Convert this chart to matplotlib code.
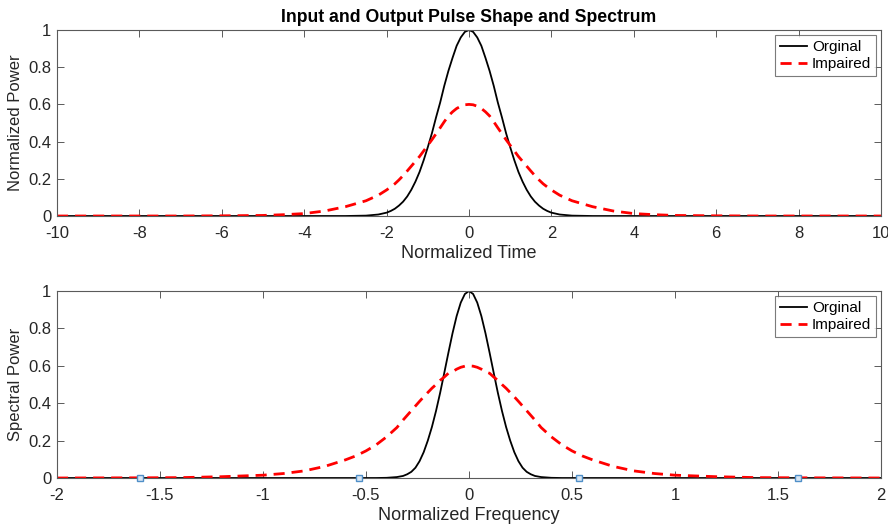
import matplotlib
matplotlib.use("Agg")
import matplotlib.pyplot as plt
import numpy as np

plt.rcParams['font.family'] = ['Liberation Sans', 'DejaVu Sans']
plt.rcParams['axes.unicode_minus'] = False

# ---- Top panel: pulse shapes vs normalized time ----
t_half = [0.0, 0.1, 0.2, 0.3, 0.4, 0.5, 0.6, 0.7, 0.8, 0.9, 1.0, 1.1, 1.2, 1.3, 1.4,
          1.5, 1.6, 1.7, 1.8, 1.9, 2.0, 2.2, 2.5, 3.0, 3.5, 4.0, 4.5, 5.0, 6.0, 7.0, 10.0]
orig_time_half = [1.0, 0.99, 0.96, 0.915, 0.85, 0.78, 0.70, 0.61, 0.53, 0.445, 0.37, 0.30,
                  0.237, 0.185, 0.141, 0.105, 0.077, 0.056, 0.039, 0.027, 0.018, 0.008,
                  0.002, 0.0, 0.0, 0.0, 0.0, 0.0, 0.0, 0.0, 0.0]
imp_time_half = [0.60, 0.598, 0.59, 0.578, 0.56, 0.538, 0.507, 0.474, 0.442, 0.41, 0.38,
                 0.35, 0.32, 0.294, 0.268, 0.242, 0.217, 0.194, 0.173, 0.156, 0.14, 0.112,
                 0.082, 0.05, 0.027, 0.013, 0.007, 0.003, 0.001, 0.0, 0.0]

# ---- Bottom panel: spectra vs normalized frequency ----
f_half = [0.0, 0.02, 0.04, 0.06, 0.08, 0.10, 0.12, 0.14, 0.16, 0.18, 0.20, 0.22, 0.24,
          0.26, 0.28, 0.30, 0.32, 0.35, 0.40, 0.45, 0.50, 0.55, 0.60, 0.70, 0.80, 0.90,
          1.0, 1.2, 1.4, 1.6, 2.0]
orig_freq_half = [1.0, 0.984, 0.938, 0.866, 0.774, 0.67, 0.562, 0.456, 0.359, 0.273, 0.20,
                  0.138, 0.09, 0.055, 0.033, 0.02, 0.011, 0.005, 0.001, 0.0, 0.0, 0.0, 0.0,
                  0.0, 0.0, 0.0, 0.0, 0.0, 0.0, 0.0, 0.0]
imp_freq_half = [0.60, 0.598, 0.592, 0.582, 0.568, 0.56, 0.54, 0.522, 0.50, 0.48, 0.457,
                 0.434, 0.41, 0.385, 0.36, 0.335, 0.31, 0.27, 0.22, 0.178, 0.145, 0.118,
                 0.097, 0.062, 0.038, 0.024, 0.015, 0.007, 0.002, 0.001, 0.0]

marker_f = [-1.595, -0.532, 0.532, 1.595]
marker_p = [0.0, 0.0, 0.0, 0.0]

legend_labels = ['Orginal', 'Impaired']
title = 'Input and Output Pulse Shape and Spectrum'


def mirror(x_half, y_half):
    x = [-v for v in x_half[::-1]] + x_half[1:]
    y = y_half[::-1] + y_half[1:]
    return np.array(x), np.array(y)


t, orig_t = mirror(t_half, orig_time_half)
_, imp_t = mirror(t_half, imp_time_half)
f, orig_f = mirror(f_half, orig_freq_half)
_, imp_f = mirror(f_half, imp_freq_half)

W, H = 888, 527
fig = plt.figure(figsize=(W / 100, H / 100), dpi=100)

ax1 = fig.add_axes([57 / W, 1 - 216 / H, (881 - 57) / W, (216 - 30) / H])
ax2 = fig.add_axes([57 / W, 1 - 478 / H, (881 - 57) / W, (478 - 291) / H])

tick_col = '#262626'


def style(ax):
    for s in ax.spines.values():
        s.set_color('#5a5a5a')
        s.set_linewidth(0.8)
    ax.tick_params(direction='in', length=5, width=0.7, colors='#5a5a5a',
                   labelcolor=tick_col, labelsize=12, top=True, right=True)
    ax.tick_params(axis='x', pad=7)
    ax.tick_params(axis='y', pad=4)


dash = (0, (4.0, 2.5))

# top
ax1.plot(t, orig_t, color='black', lw=1.3, label=legend_labels[0])
ax1.plot(t, imp_t, color='#ff0000', lw=2.0, ls=dash, label=legend_labels[1])
ax1.set_xlim(-10, 10)
ax1.set_ylim(0, 1)
ax1.set_xticks(np.arange(-10, 11, 2))
ax1.set_yticks([0, 0.2, 0.4, 0.6, 0.8, 1])
ax1.set_yticklabels(['0', '0.2', '0.4', '0.6', '0.8', '1'])
ax1.set_xlabel('Normalized Time', fontsize=13, color=tick_col, labelpad=3)
ax1.set_ylabel('Normalized Power', fontsize=12, color=tick_col, labelpad=4)
ax1.set_title(title, fontsize=12.7, fontweight='bold', pad=6)
style(ax1)

# bottom
ax2.plot(f, orig_f, color='black', lw=1.3, label=legend_labels[0])
ax2.plot(f, imp_f, color='#ff0000', lw=2.0, ls=dash, label=legend_labels[1])
ax2.plot(marker_f, marker_p, ls='none', marker='s', ms=4, mfc='#d8e6f3',
         mec='#4f8fc8', mew=1.0, zorder=5, clip_on=False)
ax2.set_xlim(-2, 2)
ax2.set_ylim(0, 1)
ax2.set_xticks([-2, -1.5, -1, -0.5, 0, 0.5, 1, 1.5, 2])
ax2.set_xticklabels(['-2', '-1.5', '-1', '-0.5', '0', '0.5', '1', '1.5', '2'])
ax2.set_yticks([0, 0.2, 0.4, 0.6, 0.8, 1])
ax2.set_yticklabels(['0', '0.2', '0.4', '0.6', '0.8', '1'])
ax2.set_xlabel('Normalized Frequency', fontsize=13, color=tick_col, labelpad=3)
ax2.set_ylabel('Spectral Power', fontsize=12, color=tick_col, labelpad=4)
style(ax2)

for ax in (ax1, ax2):
    leg = ax.legend(loc='upper right', fontsize=11, frameon=True, fancybox=False,
                    handlelength=1.8, handletextpad=0.3, borderpad=0.3,
                    labelspacing=0.2, borderaxespad=0.35)
    leg.get_frame().set_edgecolor('#5a5a5a')
    leg.get_frame().set_linewidth(0.8)

fig.savefig('out.png', dpi=100)
